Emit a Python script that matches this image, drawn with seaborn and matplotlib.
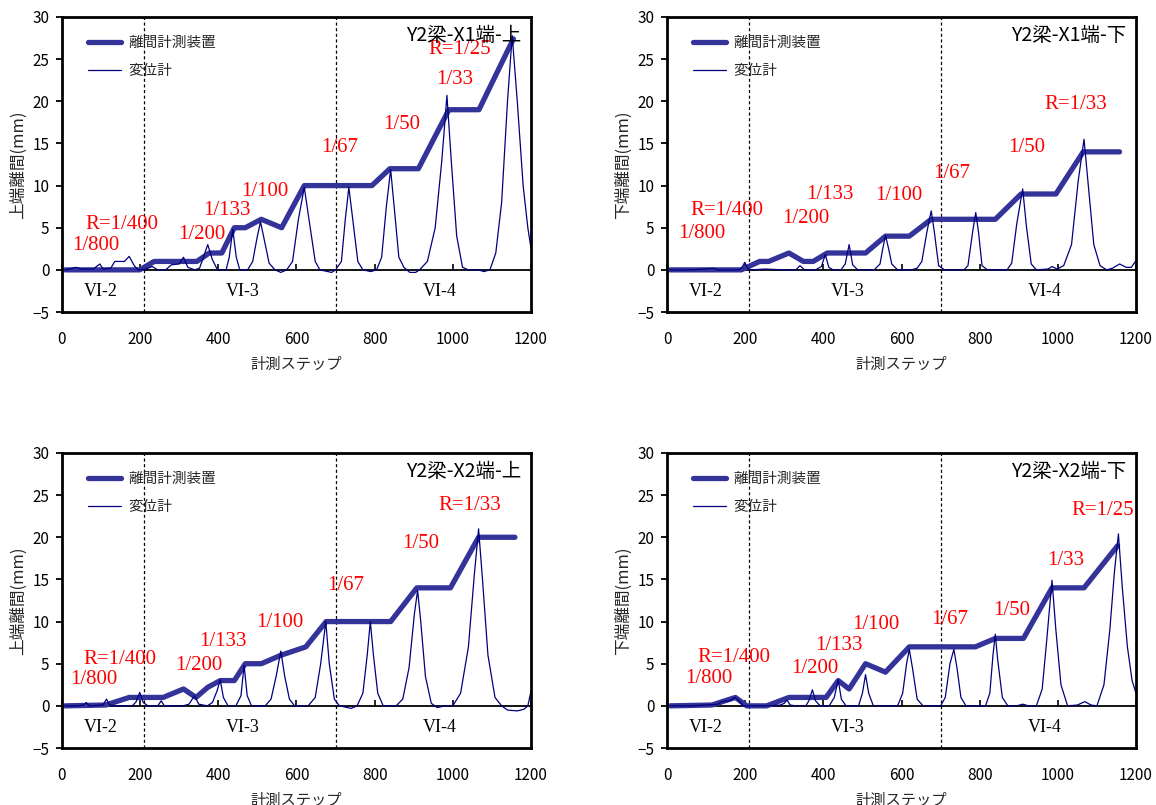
import pandas as pd
import matplotlib
matplotlib.use("Agg")
import matplotlib.pyplot as plt
import seaborn as sns

sns.set_theme(style="white")
plt.rcParams['font.family'] = ['Noto Sans CJK JP', 'DejaVu Sans']
plt.rcParams['axes.unicode_minus'] = True

# ---- data ----
titles = ["Y2梁-X1端-上", "Y2梁-X1端-下", "Y2梁-X2端-上", "Y2梁-X2端-下"]
ylabels = ["上端離間(mm)", "下端離間(mm)", "上端離間(mm)", "下端離間(mm)"]
xlabel = "計測ステップ"
series_names = ["離間計測装置", "変位計"]
stage_names = ["VI-2", "VI-3", "VI-4"]
stage_x = [100, 462, 966]
stage_bounds = [210, 700]

# 離間計測装置 (thick)
dev_x_tl = [8, 199, 236, 345, 377, 409, 441, 469, 510, 562, 620, 793, 839, 912, 990, 1067, 1155]
dev_y_tl = [0, 0, 1, 1, 2, 2, 5, 5, 6, 5, 10, 10, 12, 12, 19, 19, 27.4]
dev_x_tr = [8, 190, 237, 260, 312, 349, 374, 410, 508, 559, 620, 676, 840, 906, 995, 1065, 1158]
dev_y_tr = [0, 0, 1, 1, 2, 1, 1, 2, 2, 4, 4, 6, 6, 9, 9, 14, 14]
dev_x_bl = [8, 112, 172, 259, 311, 343, 373, 405, 441, 469, 510, 560, 624, 676, 841, 908, 994, 1066, 1159]
dev_y_bl = [0, 0.1, 1, 1, 2, 1, 2.2, 3, 3, 5, 5, 6, 7, 10, 10, 14, 14, 20, 20]
dev_x_br = [8, 115, 175, 204, 255, 312, 407, 438, 466, 508, 559, 620, 789, 840, 912, 985, 1067, 1153]
dev_y_br = [0, 0.1, 1, 0, 0, 1, 1, 3, 2, 5, 4, 7, 7, 8, 8, 14, 14, 19]

# 変位計 (thin)
gauge_x_tl = [8, 20, 35, 50, 80, 97, 105, 125, 135, 160, 172, 185, 195, 215, 231, 245, 265, 280, 300, 311,
              322, 340, 352, 362, 373, 385, 398, 420, 428, 437, 446, 455, 475, 488, 500, 508, 518, 530, 545,
              560, 575, 590, 605, 620, 632, 648, 660, 690, 700, 715, 725, 734, 744, 757, 770, 790, 805, 818,
              830, 841, 850, 862, 875, 890, 905, 915, 935, 955, 972, 985, 996, 1010, 1025, 1040, 1065, 1080,
              1095, 1110, 1125, 1140, 1152, 1165, 1180, 1192, 1200]
gauge_y_tl = [0, 0.1, 0.3, 0.1, 0.1, 0.7, 0.1, 0.2, 1.0, 1.0, 1.6, 0.5, 0.0, 0.1, 0.4, 0.0, 0.0, 0.6, 0.7, 1.5,
              0.3, 0.0, 0.2, 1.5, 3.0, 1.2, 0.0, 0.0, 1.5, 4.8, 1.5, 0.0, 0.0, 1.0, 4.0, 5.7, 3.5, 0.8, 0.0,
              -0.3, 0.0, 1.0, 6.0, 9.8, 6.0, 1.0, 0.0, -0.3, 0.0, 1.0, 6.0, 9.8, 6.0, 1.0, 0.0, -0.2, 0.0, 1.5,
              7.5, 11.9, 7.5, 1.5, 0.3, -0.3, -0.3, 0.0, 1.0, 5.0, 13.0, 20.7, 13.0, 4.0, 0.3, 0.0, 0.0, -0.2,
              0.0, 2.0, 8.0, 20.0, 27.8, 20.0, 10.0, 5.0, 2.6]
gauge_x_tr = [8, 60, 100, 117, 130, 185, 192, 199, 206, 215, 250, 300, 330, 340, 352, 380, 395, 405, 414, 425,
              445, 456, 466, 475, 488, 530, 545, 552, 559, 567, 575, 590, 625, 640, 652, 665, 676, 684, 695,
              710, 760, 770, 782, 790, 797, 806, 820, 870, 882, 895, 910, 920, 932, 945, 975, 985, 998, 1015,
              1035, 1052, 1067, 1078, 1092, 1108, 1125, 1140, 1158, 1175, 1188, 1200]
gauge_y_tr = [0, 0.0, 0.1, 0.2, 0.0, 0.0, 0.3, 0.9, 0.2, 0.0, 0.1, 0.0, 0.0, 0.5, 0.0, 0.0, 0.4, 1.8, 0.3, 0.0,
              0.0, 0.7, 3.0, 0.6, 0.0, 0.0, 0.7, 2.5, 4.1, 2.5, 0.7, 0.0, 0.0, 0.2, 1.0, 4.5, 7.0, 4.5, 0.5,
              0.0, 0.0, 0.5, 4.5, 6.8, 4.5, 0.5, 0.0, 0.0, 0.8, 5.5, 9.6, 5.0, 0.7, 0.0, 0.1, 0.4, 0.1, 0.5,
              3.0, 10.5, 15.5, 10.0, 3.0, 0.5, 0.0, 0.2, 0.7, 0.3, 0.3, 1.1]
gauge_x_bl = [8, 40, 55, 62, 70, 105, 114, 122, 140, 180, 190, 199, 208, 220, 245, 254, 262, 310, 325, 339,
              350, 372, 385, 397, 405, 413, 425, 445, 458, 466, 474, 485, 520, 535, 548, 560, 570, 582, 595,
              630, 648, 662, 675, 684, 697, 710, 740, 755, 770, 781, 789, 797, 808, 822, 855, 872, 888, 902,
              910, 918, 930, 945, 960, 980, 1000, 1020, 1040, 1055, 1066, 1076, 1090, 1108, 1125, 1140, 1165,
              1182, 1192, 1200]
gauge_y_bl = [0, 0.0, 0.1, 0.4, 0.0, 0.1, 0.8, 0.1, 0.0, 0.0, 0.5, 1.6, 0.4, 0.0, 0.0, 0.6, 0.0, 0.0, 0.2, 1.2,
              0.2, 0.0, 0.4, 1.8, 3.1, 1.0, 0.0, 0.0, 1.2, 4.8, 1.2, 0.0, 0.0, 0.8, 3.5, 6.5, 3.5, 0.8, 0.0,
              0.0, 1.0, 5.0, 10.0, 5.0, 0.8, 0.0, -0.3, 0.0, 1.5, 6.0, 10.0, 6.0, 1.5, 0.0, 0.0, 0.8, 4.5, 11.0,
              13.7, 10.0, 3.5, 0.3, -0.2, 0.0, 0.0, 1.5, 7.0, 15.5, 21.0, 15.0, 6.0, 1.0, 0.0, -0.5, -0.6,
              -0.4, 0.0, 1.7]
gauge_x_br = [8, 60, 100, 130, 140, 160, 174, 185, 195, 210, 260, 290, 300, 307, 315, 330, 355, 363, 372, 380,
              392, 415, 428, 438, 446, 458, 490, 500, 508, 516, 528, 590, 603, 613, 620, 628, 640, 655, 700,
              712, 724, 734, 742, 752, 765, 815, 826, 834, 840, 846, 858, 872, 895, 910, 925, 945, 960, 972,
              985, 995, 1008, 1025, 1050, 1069, 1085, 1100, 1118, 1133, 1145, 1155, 1165, 1178, 1190, 1200]
gauge_y_br = [0, 0.0, 0.1, 0.2, 0.5, 0.6, 1.0, 0.6, 0.0, 0.0, 0.0, 0.1, 0.3, 0.7, 0.1, 0.0, 0.0, 0.6, 1.9, 0.6,
              0.0, 0.0, 1.0, 3.1, 0.8, 0.0, 0.0, 1.5, 3.7, 1.5, 0.0, 0.0, 1.5, 5.0, 6.7, 4.5, 0.8, 0.0, 0.0,
              1.0, 5.0, 6.7, 4.5, 1.0, 0.0, 0.0, 1.5, 6.0, 8.5, 5.5, 1.0, 0.0, 0.0, 0.2, 0.0, 0.0, 2.0, 8.0,
              14.9, 9.0, 2.5, 0.0, 0.1, 0.5, 0.1, 0.0, 2.5, 9.0, 16.0, 20.4, 14.0, 7.0, 3.0, 1.5]

# red drift-angle labels (text, x, y)
ratio_tl = [("1/800", 87, 2.9), ("R=1/400", 154, 5.4), ("1/200", 359, 4.2), ("1/133", 423, 7.0),
            ("1/100", 519, 9.3), ("1/67", 711, 14.5), ("1/50", 868, 17.2), ("1/33", 1006, 22.6),
            ("R=1/25", 1017, 26.1)]
ratio_tr = [("1/800", 89, 4.3), ("R=1/400", 152, 7.0), ("1/200", 356, 6.1), ("1/133", 417, 8.9),
            ("1/100", 594, 8.8), ("1/67", 728, 11.4), ("1/50", 920, 14.5), ("R=1/33", 1046, 19.6)]
ratio_bl = [("1/800", 82, 3.1), ("R=1/400", 147, 5.5), ("1/200", 350, 4.8), ("1/133", 412, 7.6),
            ("1/100", 558, 9.9), ("1/67", 725, 14.3), ("1/50", 917, 19.3), ("R=1/33", 1043, 23.8)]
ratio_br = [("1/800", 108, 3.2), ("R=1/400", 171, 5.7), ("1/200", 377, 4.4), ("1/133", 440, 7.2),
            ("1/100", 534, 9.6), ("1/67", 723, 10.3), ("1/50", 882, 11.3), ("1/33", 1021, 17.3),
            ("R=1/25", 1114, 23.2)]

panels = [
    (dev_x_tl, dev_y_tl, gauge_x_tl, gauge_y_tl, ratio_tl),
    (dev_x_tr, dev_y_tr, gauge_x_tr, gauge_y_tr, ratio_tr),
    (dev_x_bl, dev_y_bl, gauge_x_bl, gauge_y_bl, ratio_bl),
    (dev_x_br, dev_y_br, gauge_x_br, gauge_y_br, ratio_br),
]

positions = [
    [0.0536, 0.6124, 0.4057, 0.3665],
    [0.577, 0.6124, 0.4057, 0.3665],
    [0.0536, 0.0708, 0.4057, 0.3665],
    [0.577, 0.0708, 0.4057, 0.3665],
]

thick_color = "#333399"
thin_color = "#000080"

fig = plt.figure(figsize=(11.56, 8.05), dpi=100)

for i, (dx, dy, gx, gy, ratios) in enumerate(panels):
    ax = fig.add_axes(positions[i])

    sns.lineplot(x=dx, y=dy, ax=ax, color=thick_color, lw=3.8, label=series_names[0],
                 estimator=None, sort=False)
    sns.lineplot(x=gx, y=gy, ax=ax, color=thin_color, lw=0.9, label=series_names[1],
                 estimator=None, sort=False)

    ax.axhline(0, color="black", lw=1.3, zorder=1)
    for b in stage_bounds:
        ax.axvline(b, color="black", lw=0.9, ls=(0, (2.5, 2)), zorder=1)

    for name, sx in zip(stage_names, stage_x):
        ax.text(sx, -2.6, name, ha="center", va="center", fontsize=13,
                family="Liberation Serif", color="black")

    for txt, tx, ty in ratios:
        ax.text(tx, ty, txt, ha="center", va="center", fontsize=15,
                family="Liberation Serif", color="red")

    ax.text(0.979, 0.936, titles[i], transform=ax.transAxes, ha="right", va="center",
            fontsize=14, color="black")

    ax.set_xlim(0, 1200)
    ax.set_ylim(-5, 30)
    ax.set_xticks(range(0, 1201, 200))
    ax.set_yticks(range(-5, 31, 5))
    ax.tick_params(axis="x", length=0, pad=14, labelsize=11, colors="black")
    ax.tick_params(axis="y", length=4, width=1.3, pad=5, labelsize=11, colors="black", left=True)
    ax.set_xlabel(xlabel, fontsize=11, labelpad=5)
    ax.set_ylabel(ylabels[i], fontsize=12, labelpad=4)
    for sp in ax.spines.values():
        sp.set_color("black")
        sp.set_linewidth(2)

    # small ticks sitting on the zero line (Excel style axis crossing)
    zero_axis = ax.secondary_xaxis(5 / 35)
    zero_axis.set_xticks(range(0, 1201, 200))
    zero_axis.tick_params(axis="x", direction="in", length=4, width=1.2, color="black",
                          labelbottom=False)
    zero_axis.spines["bottom"].set_visible(False)

    ax.legend(loc="upper left", bbox_to_anchor=(0.055, 0.935), frameon=False, fontsize=10.5,
              handlelength=2.3, handletextpad=0.5, labelspacing=0.95, borderpad=0,
              borderaxespad=0)

plt.savefig("out.png", dpi=100)
